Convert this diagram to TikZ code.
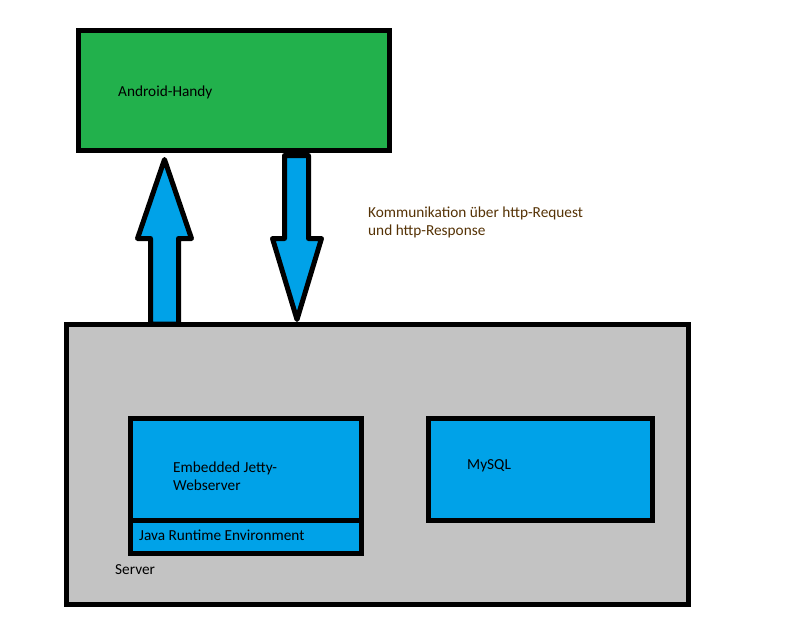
\documentclass[tikz,border=0pt]{standalone}
\usepackage{fontspec}
\setmainfont{Carlito}
\usetikzlibrary{positioning}

\definecolor{handygreen}{RGB}{34,177,76}
\definecolor{boxblue}{RGB}{0,162,232}
\definecolor{servergray}{RGB}{195,195,195}
\definecolor{commbrown}{RGB}{85,50,5}

\begin{document}
\begin{tikzpicture}[x=1pt,y=-1pt,
    box/.style={draw=black, line width=5pt, rectangle, inner sep=0pt, outer sep=0pt, anchor=north west},
    lbl/.style={font=\fontsize{15.3}{17.5}\selectfont, inner sep=0pt, anchor=base west, align=left},
    fatarrow/.style={draw=black, line width=5pt, line join=round, fill=boxblue}]
  \useasboundingbox (0,0) rectangle (812,641);

  \node [box, fill=handygreen, minimum width=311pt, minimum height=120pt] (handy) at (78.5,30.5) {};
  \node [lbl] (handylbl) at (118,96) {Android-Handy};

  \node [box, fill=servergray, minimum width=622pt, minimum height=280.5pt] (server) at (66.5,324) {};
  \node [lbl] (serverlbl) at (115,574) {Server};

  \node [box, fill=boxblue, minimum width=231pt, minimum height=101.5pt] (jetty) at (130.5,418.5) {};
  \node [box, fill=boxblue, minimum width=231pt, minimum height=33.5pt] (jre) at (jetty.south west) {};
  \node [lbl] (jettylbl) at (173,490) {Embedded Jetty-\\Webserver};
  \node [lbl] (jrelbl) at (139,540) {Java Runtime Environment};

  \node [box, fill=boxblue, minimum width=224pt, minimum height=102pt] (mysql) at (428.5,418.5) {};
  \node [lbl] (mysqllbl) at (467,469) {MySQL};

  % request / response
  \coordinate (upfoot) at (server.north -| 164.5,0);
  \coordinate (downtop) at (296.5,155.5);
  \draw [fatarrow] (upfoot) ++(-14,0) -- ++(0,-85.5) -- ++(-13,0) -- (164.5,159.5)
    -- ++(27,79) -- ++(-13,0) -- ++(0,85.5) -- cycle;
  \draw [fatarrow] (downtop) ++(-12,0) -- ++(24,0) -- ++(0,83) -- ++(13,0)
    -- (297,319.5) -- ++(-24.5,-81) -- ++(12,0) -- cycle;

  \node [lbl, text=commbrown] (commlbl) at (368,235) {Kommunikation über http-Request\\und http-Response};
\end{tikzpicture}
\end{document}
